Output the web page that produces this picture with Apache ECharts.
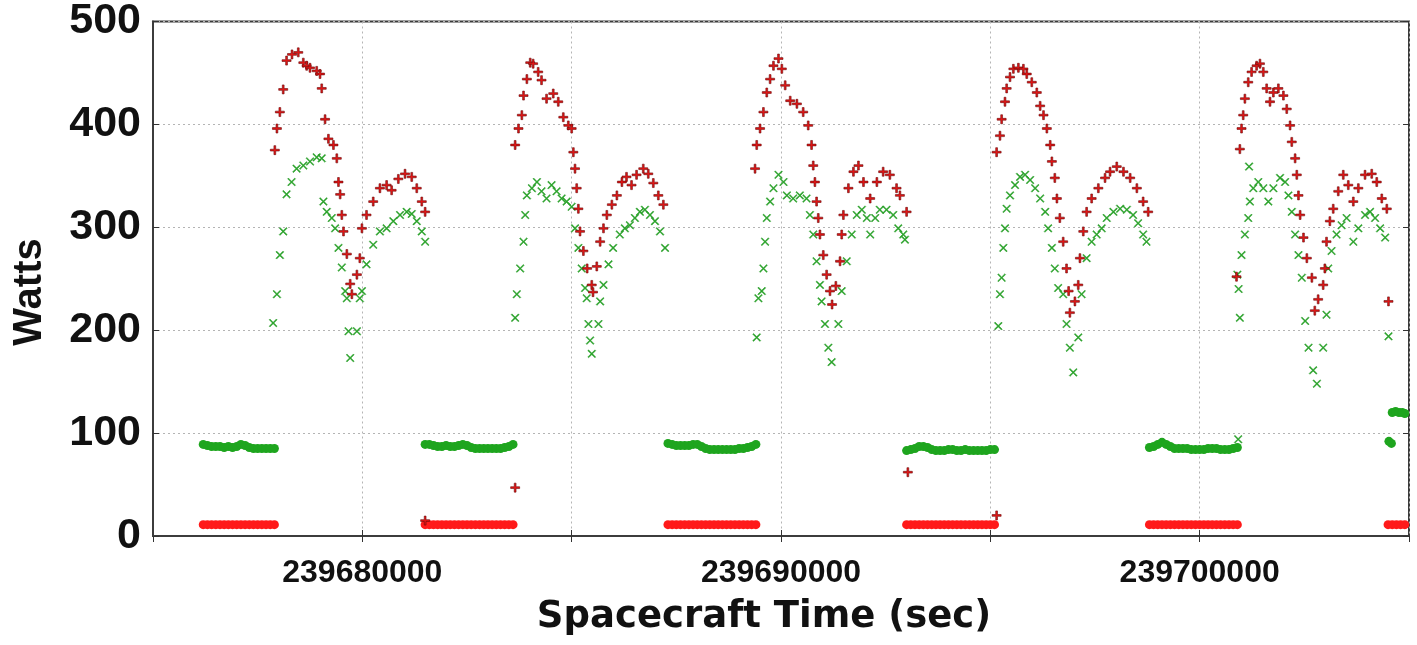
<!DOCTYPE html>
<html>
<head>
<meta charset="utf-8">
<script src="https://cdn.jsdelivr.net/npm/echarts@6/dist/echarts.min.js"></script>
<style>
html,body{margin:0;padding:0;background:#fff;}
#c{width:1417px;height:645px;}
</style>
</head>
<body>
<div id="c"></div>
<script>
// ---------------- data ----------------
const xMin = 239675000;
const xMax = 239705000;
const yMin = 0;
const yMax = 500;

// eclipse (flat) sampling times, seconds
const eclipseTimes = [
  239676200,239676300,239676400,239676500,239676600,239676700,239676800,239676900,239677000,239677100,239677200,239677300,239677400,239677500,239677600,239677700,239677800,239677900,
  239681500,239681600,239681700,239681800,239681900,239682000,239682100,239682200,239682300,239682400,239682500,239682600,239682700,239682800,239682900,239683000,239683100,239683200,239683300,239683400,239683500,239683600,
  239687300,239687400,239687500,239687600,239687700,239687800,239687900,239688000,239688100,239688200,239688300,239688400,239688500,239688600,239688700,239688800,239688900,239689000,239689100,239689200,239689300,239689400,
  239693000,239693100,239693200,239693300,239693400,239693500,239693600,239693700,239693800,239693900,239694000,239694100,239694200,239694300,239694400,239694500,239694600,239694700,239694800,239694900,239695000,239695100,
  239698800,239698900,239699000,239699100,239699200,239699300,239699400,239699500,239699600,239699700,239699800,239699900,239700000,239700100,239700200,239700300,239700400,239700500,239700600,239700700,239700800,239700900
];
const greenEclipseW = [
  89,88,87,87,87,86,87,86,87,89,88,86,85,85,85,85,85,85,
  89,89,88,87,87,88,87,87,88,89,88,86,85,85,85,85,85,85,85,86,87,89,
  90,89,88,88,88,88,89,89,87,85,84,84,84,84,84,84,84,85,85,86,87,89,
  83,84,85,87,87,86,84,83,83,83,84,84,83,83,84,83,83,83,83,83,84,84,
  86,87,89,91,89,87,85,85,85,85,84,84,84,84,85,85,85,84,84,84,85,86
];
const redEclipseW = [
  11,11,11,11,11,11,11,11,11,11,11,11,11,11,11,11,11,11,
  11,11,11,11,11,11,11,11,11,11,11,11,11,11,11,11,11,11,11,11,11,11,
  11,11,11,11,11,11,11,11,11,11,11,11,11,11,11,11,11,11,11,11,11,11,
  11,11,11,11,11,11,11,11,11,11,11,11,11,11,11,11,11,11,11,11,11,11,
  11,11,11,11,11,11,11,11,11,11,11,11,11,11,11,11,11,11,11,11,11,11
];

// sunlit portions [time, watts]
const redSunlit = [
  [239677910,375],[239677960,396],[239678030,412],[239678110,434],[239678190,462],[239678320,468],[239678470,470],[239678590,460],[239678670,457],[239678750,455],[239678910,452],[239678990,449],[239679030,435],[239679110,405],[239679190,386],[239679310,380],[239679390,367],[239679430,344],[239679470,332],[239679510,312],[239679550,296],[239679630,274],[239679710,245],[239679750,235],[239679870,254],[239679940,270],[239679990,299],[239680100,312],[239680260,325],[239680420,338],[239680580,341],[239680700,336],[239680860,347],[239681020,352],[239681180,349],[239681300,338],[239681420,325],[239681500,315],
  [239683650,380],[239683730,396],[239683810,409],[239683850,428],[239683930,444],[239684010,460],[239684080,459],[239684200,451],[239684280,443],[239684400,425],[239684560,430],[239684680,422],[239684800,407],[239684920,399],[239685000,396],[239685040,373],[239685080,357],[239685120,338],[239685160,318],[239685200,296],[239685280,277],[239685370,260],[239685480,244],[239685510,237],[239685600,262],[239685680,286],[239685760,299],[239685840,312],[239685960,322],[239686080,331],[239686200,344],[239686310,349],[239686430,341],[239686550,351],[239686710,357],[239686830,352],[239686950,343],[239687070,331],[239687190,322],
  [239689420,380],[239689500,396],[239689580,412],[239689660,431],[239689740,444],[239689820,457],[239689940,464],[239690020,454],[239690100,438],[239690220,423],[239690380,420],[239690530,412],[239690650,399],[239690730,380],[239690770,360],[239690810,344],[239690850,325],[239690890,309],[239690930,293],[239691010,273],[239691090,254],[239691170,238],[239691220,225],[239691310,243],[239691410,267],[239691450,293],[239691490,312],[239691610,338],[239691730,354],[239691850,360],[239691970,344],[239692130,328],[239692290,344],[239692440,354],[239692600,351],[239692760,338],[239692840,331],[239693000,315],
  [239695150,373],[239695230,389],[239695270,405],[239695350,422],[239695390,435],[239695470,446],[239695550,454],[239695670,455],[239695790,454],[239695870,449],[239695990,441],[239696110,431],[239696190,418],[239696270,409],[239696350,396],[239696430,380],[239696470,364],[239696540,348],[239696590,328],[239696660,309],[239696740,286],[239696820,260],[239696870,238],[239696900,217],[239697020,228],[239697100,244],[239697140,270],[239697220,296],[239697300,315],[239697420,328],[239697580,338],[239697740,348],[239697860,354],[239698020,359],[239698180,354],[239698340,348],[239698500,338],[239698650,325],[239698770,315],
  [239700880,252],[239700960,376],[239701000,396],[239701040,409],[239701080,425],[239701160,441],[239701240,451],[239701360,457],[239701440,459],[239701520,451],[239701600,435],[239701680,422],[239701760,431],[239701880,435],[239702000,428],[239702080,415],[239702160,399],[239702200,383],[239702280,367],[239702320,351],[239702360,331],[239702400,312],[239702480,290],[239702560,270],[239702680,251],[239702750,219],[239702830,230],[239702950,244],[239702990,260],[239703030,286],[239703110,306],[239703190,318],[239703310,335],[239703430,351],[239703550,341],[239703670,325],[239703790,338],[239703950,351],[239704110,352],[239704230,344],[239704350,328],[239704470,318]
];
const greenSunlit = [
  [239677870,207],[239677960,235],[239678030,273],[239678110,296],[239678190,332],[239678310,344],[239678430,357],[239678590,360],[239678750,364],[239678910,368],[239679030,367],[239679070,325],[239679150,315],[239679270,309],[239679350,299],[239679430,280],[239679510,261],[239679590,238],[239679630,231],[239679670,199],[239679710,173],[239679870,199],[239679940,231],[239679990,238],[239680100,264],[239680260,283],[239680420,296],[239680580,299],[239680740,306],[239680900,312],[239681060,315],[239681180,313],[239681300,306],[239681420,296],[239681500,286],
  [239683650,212],[239683690,235],[239683770,260],[239683850,286],[239683890,312],[239683930,331],[239684050,338],[239684170,344],[239684280,335],[239684400,328],[239684520,341],[239684640,335],[239684760,328],[239684880,325],[239685000,320],[239685080,299],[239685160,280],[239685240,260],[239685320,241],[239685360,231],[239685400,206],[239685440,190],[239685480,177],[239685640,206],[239685680,228],[239685760,244],[239685880,264],[239685990,280],[239686150,293],[239686270,299],[239686390,302],[239686510,309],[239686630,315],[239686750,317],[239686870,312],[239686990,306],[239687110,296],[239687230,280],
  [239689420,193],[239689460,231],[239689540,238],[239689580,260],[239689620,286],[239689660,309],[239689740,325],[239689820,338],[239689940,351],[239690060,344],[239690140,331],[239690290,328],[239690450,331],[239690610,328],[239690690,312],[239690770,293],[239690850,267],[239690930,244],[239690970,228],[239691050,206],[239691130,183],[239691210,169],[239691370,206],[239691450,238],[239691570,267],[239691690,293],[239691810,312],[239691930,317],[239692050,309],[239692130,293],[239692250,309],[239692360,317],[239692520,317],[239692680,312],[239692800,299],[239692920,293],[239692960,288],
  [239695190,204],[239695230,235],[239695270,251],[239695310,280],[239695350,299],[239695390,318],[239695470,331],[239695590,341],[239695710,349],[239695830,351],[239695950,346],[239696070,338],[239696190,328],[239696310,315],[239696380,299],[239696470,280],[239696540,260],[239696620,241],[239696740,235],[239696820,206],[239696900,183],[239696980,159],[239697100,193],[239697180,235],[239697300,270],[239697420,286],[239697540,293],[239697660,299],[239697780,309],[239697940,315],[239698100,318],[239698260,317],[239698410,312],[239698530,304],[239698650,293],[239698730,286],
  [239700930,240],[239700960,212],[239701000,273],[239701080,293],[239701160,309],[239701180,359],[239701200,325],[239701280,338],[239701400,344],[239701520,338],[239701640,325],[239701760,338],[239701920,348],[239702040,344],[239702120,331],[239702200,315],[239702280,293],[239702360,273],[239702440,251],[239702520,209],[239702600,183],[239702710,161],[239702800,148],[239702950,183],[239703030,215],[239703070,260],[239703150,277],[239703270,293],[239703390,302],[239703510,309],[239703670,286],[239703790,299],[239703950,312],[239704070,315],[239704190,309],[239704310,299],[239704430,290]
];

// isolated points
const redStray = [
  [239681500,15],[239683650,47],[239689380,357],[239693030,62],[239695150,20],[239704510,228]
];
const greenStray = [
  [239700900,254],[239704510,194],[239700920,94]
];
// short solid runs at the right edge
const redEdgeRun = [[239704500,11],[239704600,11],[239704700,11],[239704800,11],[239704900,11]];
const greenEdgeRun = [[239704520,92],[239704580,90],[239704600,120],[239704680,121],[239704760,120],[239704840,120],[239704900,119]];

const xTitle = 'Spacecraft Time (sec)';
const yTitle = 'Watts';

// ---------------- build ----------------
const redEclipse = eclipseTimes.map((t, i) => [t, redEclipseW[i]]).concat(redEdgeRun);
const greenEclipse = eclipseTimes.map((t, i) => [t, greenEclipseW[i]]).concat(greenEdgeRun);

const PLUS = 'path://M4,0H6V4H10V6H6V10H4V6H0V4H4Z';
const CROSS = 'path://M1,0L5,4L9,0L10,1L6,5L10,9L9,10L5,6L1,10L0,9L4,5L0,1Z';
const tickFont = '"Liberation Sans Narrow", "Liberation Sans", Arial, sans-serif';

const chart = echarts.init(document.getElementById('c'), null, {renderer: 'canvas'});
chart.setOption({
  animation: false,
  backgroundColor: '#ffffff',
  grid: {left: 153, right: 8, top: 20, bottom: 109, show: true, borderColor: '#3c3c3c', borderWidth: 2, backgroundColor: 'rgba(0,0,0,0)'},
  xAxis: [{
    type: 'value', min: xMin, max: xMax, interval: 5000, position: 'bottom',
    axisLine: {show: true, onZero: false, lineStyle: {color: '#3c3c3c', width: 2}},
    axisTick: {show: true, inside: true, length: 6, lineStyle: {color: '#333', width: 1}},
    axisLabel: {
      show: true, margin: 21, color: '#111', fontFamily: tickFont, fontSize: 32, fontWeight: 'bold',
      showMinLabel: false, showMaxLabel: false,
      formatter: v => (v % 10000 === 0 ? String(v) : '')
    },
    splitLine: {show: true, lineStyle: {color: '#b4b4b4', width: 1, type: [2, 3]}}
  }, {
    type: 'value', min: xMin, max: xMax, interval: 5000, position: 'top',
    axisLine: {show: false}, axisTick: {show: true, inside: true, length: 6, lineStyle: {color: '#333'}},
    axisLabel: {show: false}, splitLine: {show: false}
  }],
  yAxis: [{
    type: 'value', min: yMin, max: yMax, interval: 100, position: 'left',
    axisLine: {show: true, onZero: false, lineStyle: {color: '#3c3c3c', width: 2}},
    axisTick: {show: true, inside: true, length: 6, lineStyle: {color: '#333', width: 1}},
    axisLabel: {show: true, margin: 12, color: '#111', fontFamily: tickFont, fontSize: 43, fontWeight: 'bold'},
    splitLine: {show: true, lineStyle: {color: '#b4b4b4', width: 1, type: [2, 3]}}
  }, {
    type: 'value', min: yMin, max: yMax, interval: 100, position: 'right',
    axisLine: {show: false}, axisTick: {show: true, inside: true, length: 6, lineStyle: {color: '#333'}},
    axisLabel: {show: false}, splitLine: {show: false}
  }],
  graphic: [
    {type: 'text', x: 30, y: 292, rotation: Math.PI / 2,
     style: {text: yTitle, font: 'bold 40px "Liberation Sans", Arial, sans-serif', fill: '#111', textAlign: 'center', textVerticalAlign: 'middle'}},
    {type: 'text', x: 764, y: 617,
     style: {text: xTitle, font: 'bold 37px "DejaVu Sans", sans-serif', fill: '#111', textAlign: 'center', textVerticalAlign: 'middle'}}
  ],
  series: [
    {name: 'green eclipse', type: 'scatter', data: greenEclipse, symbol: 'circle', symbolSize: 9,
     itemStyle: {color: '#1ea51e', opacity: 1}, z: 3},
    {name: 'red eclipse', type: 'scatter', data: redEclipse, symbol: 'circle', symbolSize: 9,
     itemStyle: {color: '#ff1a1a', opacity: 1}, z: 4},
    {name: 'green sunlit', type: 'scatter', data: greenSunlit.concat(greenStray), symbol: CROSS, symbolSize: 8,
     itemStyle: {color: '#2aaa2a', borderColor: '#1d8a1d', borderWidth: 0.4, opacity: 1}, z: 3},
    {name: 'red sunlit', type: 'scatter', data: redSunlit.concat(redStray), symbol: PLUS, symbolSize: 9,
     itemStyle: {color: '#e31616', borderColor: '#6a0a0a', borderWidth: 0.6, opacity: 1}, z: 4}
  ]
});
</script>
</body>
</html>
